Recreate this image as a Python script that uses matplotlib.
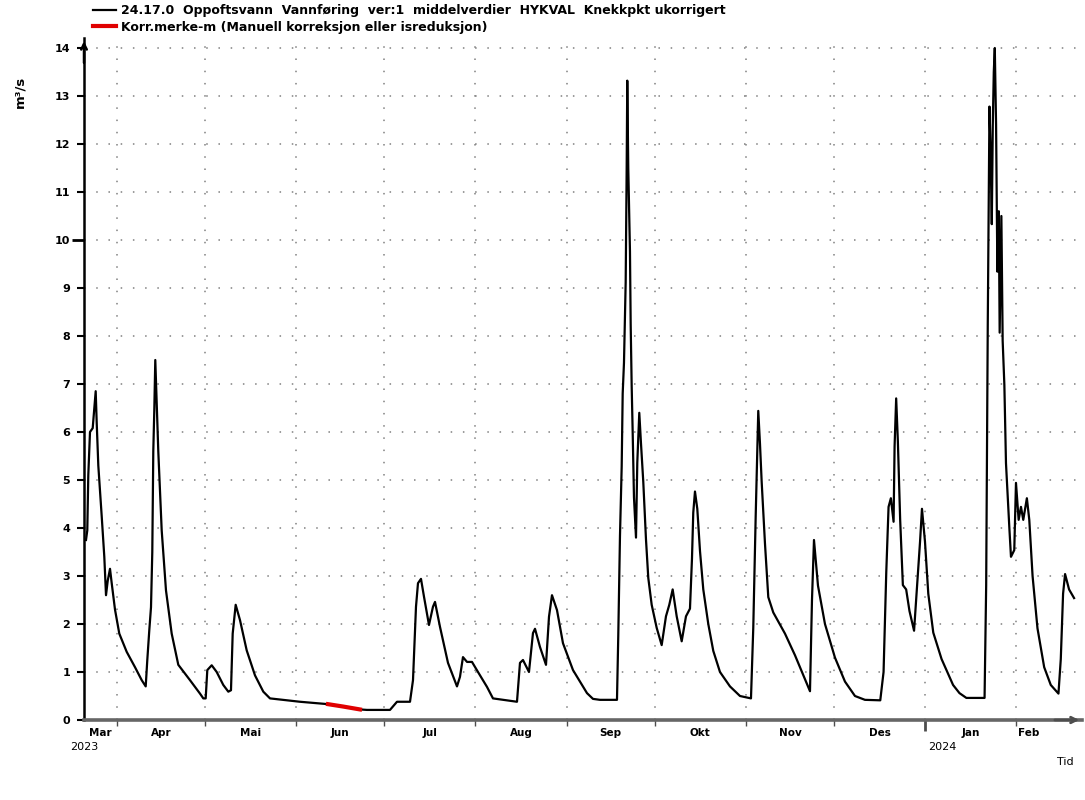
import numpy as np
import pandas as pd
import matplotlib
matplotlib.use("Agg")
import matplotlib.pyplot as plt

# time axis: days after 1 Apr 2023
base = pd.Timestamp("2023-04-01")
x_start, x_end = -11.23, 328.4

# Vannføring (m3/s)
days = [-10.55, -10.11, -9.77, -9.19, -8.27, -7.72, -7.25, -6.91, -6.36, -5.21,
        -4.32, -3.74, -3.16, -2.38, -1.80, -0.68, 0.78, 3.30, 6.13, 8.41,
        9.77, 10.31, 10.99, 11.57, 12.01, 12.35, 12.69, 13.03, 13.51, 14.05,
        15.21, 16.67, 18.61, 20.86, 24.84, 28.24, 29.37, 30.18, 30.73, 32.23,
        33.93, 36.17, 37.88, 38.79, 39.37, 40.39, 41.86, 44.14, 46.96, 49.79,
        52.07, 62.27, 71.80, 77.0, 82.69, 85.08, 92.90, 95.28, 99.71, 100.73,
        101.75, 102.43, 103.45, 104.47, 106.17, 107.53, 108.22, 109.92, 112.64, 115.70,
        116.72, 117.74, 119.11, 120.81, 122.85, 125.91, 127.95, 136.12, 137.14, 138.16,
        140.20, 141.56, 142.25, 143.95, 145.99, 147.01, 148.03, 149.73, 151.77, 155.18,
        159.94, 161.98, 164.36, 170.15, 170.59, 171.17, 171.75, 172.09, 172.53, 173.11,
        173.45, 173.65, 173.99, 174.57, 174.81, 175.15, 175.49, 175.93, 176.62, 177.06,
        177.74, 178.32, 179.10, 180.02, 180.80, 181.96, 183.66, 185.36, 186.82, 187.95,
        189.10, 190.47, 192.17, 193.63, 194.99, 195.67, 196.11, 196.69, 197.48, 198.40,
        199.52, 201.22, 202.92, 205.20, 208.60, 212.01, 215.75, 216.53, 217.35, 218.23,
        218.81, 219.39, 220.51, 221.64, 223.34, 227.32, 230.72, 234.13, 235.83, 236.51,
        237.19, 238.55, 240.93, 244.33, 247.74, 251.14, 254.54, 259.75, 260.87, 261.79,
        262.57, 263.36, 264.28, 264.62, 265.16, 265.74, 266.52, 267.44, 268.56, 269.69,
        271.25, 272.38, 273.29, 273.94, 274.96, 276.09, 277.79, 280.61, 284.52, 286.7,
        289.05, 295.24, 295.79, 296.33, 296.91, 297.25, 297.70, 298.04, 298.38, 298.72,
        299.16, 299.60, 300.08, 300.38, 300.96, 301.40, 301.98, 302.53, 303.68, 304.23,
        305.35, 305.93, 306.84, 307.63, 308.41, 309.64, 310.46, 311.58, 313.25, 315.53,
        317.77, 320.39, 321.18, 321.96, 322.64, 324.00, 325.70]
flow = [3.75, 3.95, 5.1, 6.0, 6.08, 6.5, 6.85, 6.2, 5.3, 4.25,
        3.4, 2.6, 2.9, 3.15, 2.85, 2.3, 1.8, 1.42, 1.1, 0.83,
        0.7, 1.25, 1.87, 2.35, 3.5, 5.6, 6.45, 7.5, 6.6, 5.6,
        3.95, 2.7, 1.8, 1.15, 0.83, 0.55, 0.45, 0.45, 1.04, 1.14,
        1.0, 0.73, 0.59, 0.62, 1.8, 2.4, 2.08, 1.45, 0.93, 0.59,
        0.45, 0.38, 0.33, 0.28, 0.22, 0.21, 0.21, 0.38, 0.38, 0.83,
        2.36, 2.85, 2.94, 2.57, 1.98, 2.36, 2.46, 1.94, 1.19, 0.70,
        0.9, 1.31, 1.21, 1.21, 1.0, 0.69, 0.45, 0.38, 1.19, 1.25,
        1.0, 1.81, 1.9, 1.52, 1.15, 2.15, 2.6, 2.29, 1.6, 1.04,
        0.56, 0.44, 0.42, 0.42, 1.76, 3.84, 5.28, 6.8, 7.44, 9.12,
        11.52, 13.32, 11.5, 9.76, 8.24, 6.96, 6.0, 4.64, 3.8, 5.36,
        6.4, 5.76, 4.96, 3.76, 2.96, 2.4, 1.92, 1.56, 2.16, 2.4,
        2.72, 2.16, 1.64, 2.16, 2.32, 3.36, 4.32, 4.76, 4.4, 3.52,
        2.72, 2.0, 1.44, 1.0, 0.7, 0.5, 0.45, 1.92, 4.24, 6.44,
        5.76, 4.96, 3.68, 2.56, 2.24, 1.8, 1.35, 0.85, 0.6, 2.5,
        3.75, 2.8, 2.0, 1.3, 0.8, 0.5, 0.42, 0.41, 1.0, 3.08,
        4.44, 4.62, 4.13, 5.7, 6.7, 5.8, 4.17, 2.81, 2.72, 2.27,
        1.86, 2.9, 3.72, 4.4, 3.72, 2.63, 1.82, 1.27, 0.73, 0.56,
        0.46, 0.46, 2.81, 8.25, 12.78, 11.96, 10.33, 12.4, 13.5, 14.0,
        12.4, 9.34, 10.6, 8.07, 10.5, 7.9, 6.98, 5.35, 4.0, 3.4,
        3.54, 4.94, 4.17, 4.44, 4.17, 4.62, 4.17, 3.0, 1.91, 1.1,
        0.73, 0.55, 1.27, 2.63, 3.04, 2.72, 2.54]

# Korr.merke-m stretch
korr_days = [71.80, 77.0, 82.69]
korr_flow = [0.33, 0.28, 0.22]

month_names = ["Mar", "Apr", "Mai", "Jun", "Jul", "Aug", "Sep", "Okt", "Nov", "Des", "Jan", "Feb"]
y_ticks = list(range(0, 15))

label_main = "24.17.0  Oppoftsvann  Vannføring  ver:1  middelverdier  HYKVAL  Knekkpkt ukorrigert"
label_korr = "Korr.merke-m (Manuell korreksjon eller isreduksjon)"

fig = plt.figure(figsize=(10.85, 8), dpi=100)
ax = fig.add_axes([84 / 1085, 0.1, 998 / 1085, (720 - 38.4) / 800])

l1, = ax.plot(days, flow, color="black", lw=1.6, label=label_main)
l2, = ax.plot(korr_days, korr_flow, color="#e00000", lw=3, label=label_korr)

ax.set_xlim(x_start, x_end)
ax.set_ylim(0, 14.2)

# month boundaries
months = pd.date_range("2023-04-01", "2024-02-01", freq="MS")
month_days = np.array((months - base).days, dtype=float)
ax.set_xticks(month_days)
ax.set_xticklabels([])
ax.set_yticks(y_ticks)
ax.set_yticklabels([str(v) for v in y_ticks], fontsize=8, fontweight="bold")
ax.tick_params(axis="y", direction="out", length=5, width=1.5, pad=5)
ax.tick_params(axis="x", direction="out", length=4, width=1, color="0.3")

ax.grid(True, color="0.5", linestyle=(0, (1, 7)), lw=1.1)

for s in ["top", "right"]:
    ax.spines[s].set_visible(False)
ax.spines["left"].set_linewidth(1.8)
ax.spines["bottom"].set_color("0.4")
ax.spines["bottom"].set_linewidth(2.6)

# bigger tick for year change and for 10
jan1 = (pd.Timestamp("2024-01-01") - base).days
for t, loc in zip(ax.xaxis.get_major_ticks(), month_days):
    if loc == jan1:
        t.tick1line.set_markersize(8)
        t.tick1line.set_markeredgewidth(2)
        t.tick1line.set_color("black")
for t, loc in zip(ax.yaxis.get_major_ticks(), y_ticks):
    if loc == 10:
        t.tick1line.set_markersize(9)
        t.tick1line.set_markeredgewidth(2)

# arrows
ax.annotate("", xy=(0, 1.0), xytext=(0, 0.96), xycoords="axes fraction",
            arrowprops=dict(arrowstyle="->", lw=1.8, color="black"))
ax.annotate("", xy=(1.0, 0), xytext=(0.97, 0), xycoords="axes fraction",
            arrowprops=dict(arrowstyle="->", lw=2, color="0.3"))

# month labels
trans = ax.get_xaxis_transform()
edges = np.concatenate([[x_start], month_days])
for i, name in enumerate(month_names):
    if i < len(edges) - 1:
        xm = (edges[i] + edges[i + 1]) / 2
        ax.text(xm, -0.012, name, transform=trans, ha="center", va="top",
                fontsize=7.5, fontweight="bold")
    else:
        ax.text(edges[i] + 0.7, -0.012, name, transform=trans, ha="left", va="top",
                fontsize=7.5, fontweight="bold")
ax.text(x_start, -0.032, "2023", transform=trans, ha="center", va="top", fontsize=8)
ax.text(jan1 + 1.0, -0.032, "2024", transform=trans, ha="left", va="top", fontsize=8)

fig.text(1065 / 1085, 1 - 762 / 800, "Tid", ha="center", va="center", fontsize=8)
fig.text(20 / 1085, 1 - 92 / 800, "m³/s", rotation=90, ha="center", va="center",
         fontsize=9.5, fontweight="bold")

leg = fig.legend(handles=[l1, l2], loc="upper left", bbox_to_anchor=(93 / 1085, 1 - 4 / 800),
                 frameon=False, handlelength=1.8, handletextpad=0.45,
                 labelspacing=0.3, borderpad=0, borderaxespad=0,
                 prop={"size": 9, "weight": "bold"})

fig.savefig("out.png", dpi=100)
